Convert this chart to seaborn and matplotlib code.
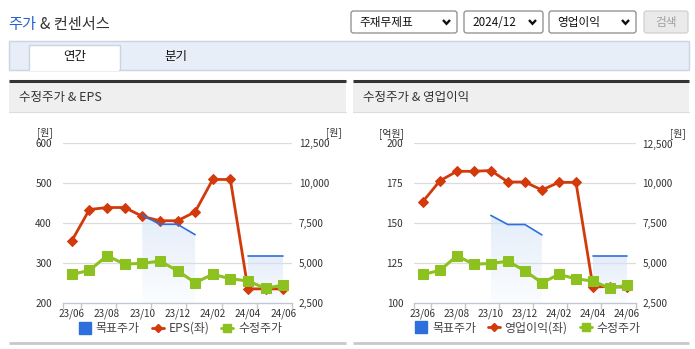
import numpy as np
import pandas as pd
import matplotlib
matplotlib.use("Agg")
import matplotlib.pyplot as plt
import seaborn as sns
from matplotlib.patches import Rectangle, FancyBboxPatch
from matplotlib.lines import Line2D
from matplotlib.ticker import FixedLocator, FuncFormatter

# ---------------- data ----------------
months = ["23/06", "23/07", "23/08", "23/09", "23/10", "23/11", "23/12",
          "24/01", "24/02", "24/03", "24/04", "24/05", "24/06"]
xtick_labels = ["23/06", "23/08", "23/10", "23/12", "24/02", "24/04", "24/06"]
eps = [356, 434, 439, 439, 417, 406, 406, 428, 509, 509, 236, 236, 236]
op_income = [163.6, 176.6, 182.6, 182.6, 183.1, 175.9, 175.9, 170.9, 175.7, 175.7, 110.3, 110.5, 110.0]
adj_price = [4305, 4554, 5467, 4948, 4990, 5135, 4533, 3786, 4305, 4035, 3890, 3433, 3641]
target_price = [np.nan, np.nan, np.nan, np.nan, 8000, 7430, 7430, 6780, np.nan, np.nan, 5430, 5430, 5430]
eps_ticks = [200, 300, 400, 500, 600]
op_ticks = [100, 125, 150, 175, 200]
price_ticks = [2500, 5000, 7500, 10000, 12500]

sns.set_theme(style="white")
plt.rcParams['font.family'] = ['Noto Sans CJK KR', 'DejaVu Sans']

W, H = 695, 349
fig = plt.figure(figsize=(W / 100, H / 100), dpi=100)
fig.patch.set_facecolor("white")

bg = fig.add_axes([0, 0, 1, 1])
bg.set_xlim(0, W)
bg.set_ylim(H, 0)
bg.axis("off")

TXT = "#333333"
# Title
bg.text(8.5, 25, "주가", color="#2a62d0", fontsize=11, va="center", ha="left")
bg.text(40.5, 25, "& 컨센서스", color="#333333", fontsize=11, va="center", ha="left")

# Dropdowns
def dropdown(x0, x1, label):
    b = FancyBboxPatch((x0, 11), x1 - x0, 22, boxstyle="round,pad=0,rounding_size=2.5",
                       fc="white", ec="#8a8a8a", lw=0.9)
    bg.add_patch(b)
    bg.text(x0 + 8, 22.3, label, fontsize=8.4, color="#111111", va="center", ha="left")
    cx = x1 - 10.5
    bg.plot([cx - 3.5, cx, cx + 3.5], [20, 23.8, 20], color="#111111", lw=1.7,
            solid_capstyle="butt", solid_joinstyle="miter")

dropdown(351, 457, "주재무제표")
dropdown(464, 543, "2024/12")
dropdown(549, 636, "영업이익")
bg.add_patch(FancyBboxPatch((644, 11), 44, 22, boxstyle="round,pad=0,rounding_size=2.5",
                            fc="#eaeaea", ec="#d0d0d0", lw=0.9))
bg.text(666, 22.3, "검색", fontsize=8.4, color="#a0a0a0", va="center", ha="center")

# Tab bar
bg.add_patch(Rectangle((9, 40.5), 680, 29, fc="#e8eef8", ec="#c9d4e4", lw=1))
bg.add_patch(Rectangle((29, 45), 91, 25, fc="white", ec="#c9d4e4", lw=1))
bg.add_patch(Rectangle((29.6, 68.5), 89.8, 2.5, fc="white", ec="none"))
bg.text(75, 56.5, "연간", fontsize=9, color="#111111", va="center", ha="center")
bg.text(176, 56.5, "분기", fontsize=9, color="#111111", va="center", ha="center")

# Panel headers
for (x0, x1, title) in [(9, 346, "수정주가 & EPS"), (353, 689, "수정주가 & 영업이익")]:
    bg.add_patch(Rectangle((x0, 82), x1 - x0, 30, fc="#efefef", ec="none"))
    bg.plot([x0, x1], [81, 81], color="#333333", lw=2.2, solid_capstyle="butt")
    bg.plot([x0, x1], [112.3, 112.3], color="#dddddd", lw=0.8)
    bg.text(x0 + 10, 98, title, fontsize=9, color="#333333", va="center", ha="left")
    bg.plot([x0, x1], [343.3, 343.3], color="#c8c8c8", lw=2.0, solid_capstyle="butt")

ORANGE = "#d33a0b"
GREEN = "#8cc11f"
BLUE = "#2e6fdc"
x_idx = np.arange(len(months))


def rect(x0, y0, x1, y1):
    return [x0 / W, 1 - y1 / H, (x1 - x0) / W, (y1 - y0) / H]


def gradient_fill(ax, ax2, xs, ys):
    xs = np.asarray(xs, float)
    ys = np.asarray(ys, float)
    poly = ax.fill_between(xs, ys, price_ticks[0], transform=ax2.transData,
                           color="none", lw=0)
    n = 256
    grad = np.zeros((n, 1, 4))
    c = matplotlib.colors.to_rgb("#d3e2f7")
    grad[:, 0, 0:3] = c
    grad[:, 0, 3] = np.linspace(0.62, 0.08, n)
    img = ax.imshow(grad, extent=[xs.min(), xs.max(), price_ticks[0], np.nanmax(ys)],
                    transform=ax2.transData, aspect="auto", zorder=1,
                    interpolation="bilinear", origin="upper")
    img.set_clip_path(poly.get_paths()[0], transform=ax2.transData)


def make_chart(axrect, left_vals, left_ticks, left_unit, left_label, left_fmt):
    ax = fig.add_axes(rect(*axrect))
    ax2 = ax.twinx()
    ax.set_facecolor("none")
    ax.set_xlim(-0.5, len(months) - 0.5)
    ax.set_ylim(left_ticks[0], left_ticks[-1])
    ax2.set_ylim(price_ticks[0], price_ticks[-1])

    # grid
    for t in left_ticks[1:]:
        ax.axhline(t, color="#dcdcdc", lw=0.9, zorder=0.5)

    # shaded target regions
    tp = np.array(target_price, float)
    valid = ~np.isnan(tp)
    segs = []
    cur = []
    for i, v in enumerate(valid):
        if v:
            cur.append(i)
        elif cur:
            segs.append(cur); cur = []
    if cur:
        segs.append(cur)
    for s in segs:
        gradient_fill(ax, ax2, x_idx[s], tp[s])
    ax.set_xlim(-0.5, len(months) - 0.5)
    ax.set_ylim(left_ticks[0], left_ticks[-1])

    df = pd.DataFrame({"x": x_idx, "left": left_vals, "price": adj_price, "target": target_price})
    sns.lineplot(data=df, x="x", y="left", ax=ax, color=ORANGE, lw=2.0, marker="D",
                 markersize=5.5, markeredgecolor=ORANGE, zorder=3)
    for s in segs:
        sub = df.iloc[s]
        sns.lineplot(data=sub, x="x", y="target", ax=ax2, color=BLUE, lw=1.2, zorder=2)
    sns.lineplot(data=df, x="x", y="price", ax=ax2, color=GREEN, lw=2.2, marker="s",
                 markersize=6.5, markeredgecolor=GREEN, zorder=4)

    ax.set_xlim(-0.5, len(months) - 0.5)
    ax.set_ylim(left_ticks[0], left_ticks[-1])
    ax2.set_ylim(price_ticks[0], price_ticks[-1])

    for a in (ax, ax2):
        a.set_xlabel("")
        a.set_ylabel("")
        for sp in a.spines.values():
            sp.set_visible(False)
    ax.spines["bottom"].set_visible(True)
    ax.spines["bottom"].set_color("#c0c8d4")
    ax.spines["bottom"].set_linewidth(1.0)

    ax.set_xticks(x_idx[::2])
    ax.set_xticklabels(xtick_labels)
    ax.xaxis.set_minor_locator(FixedLocator([-0.5, 0.5, 2.5, 4.5, 6.5, 8.5, 10.5, 12.5]))
    ax.tick_params(axis="x", which="major", length=0, pad=4, labelsize=7.2, colors=TXT)
    ax.tick_params(axis="x", which="minor", length=4, width=1.0, color="#c0c8d4", bottom=True)

    ax.set_yticks(left_ticks)
    ax.yaxis.set_major_formatter(FuncFormatter(left_fmt))
    ax.tick_params(axis="y", length=0, pad=8, labelsize=7.2, colors=TXT)
    ax2.set_yticks(price_ticks)
    ax2.yaxis.set_major_formatter(FuncFormatter(lambda v, p: f"{int(v):,}"))
    ax2.tick_params(axis="y", length=0, pad=5, labelsize=7.2, colors=TXT)

    ax.annotate(left_unit, xy=(0, 1), xycoords="axes fraction", xytext=(-10, 10),
                textcoords="offset pixels", fontsize=7.2, color=TXT, ha="right", va="center")
    ax.annotate("[원]", xy=(1, 1), xycoords="axes fraction", xytext=(50, 10),
                textcoords="offset pixels", fontsize=7.2, color=TXT, ha="right", va="center")

    handles = [
        Line2D([], [], lw=0, marker="s", markersize=9, color=BLUE),
        Line2D([], [], lw=2, marker="D", markersize=4, color=ORANGE),
        Line2D([], [], lw=2, marker="s", markersize=5.5, color=GREEN),
    ]
    leg = ax.legend(handles, ["목표주가", left_label, "수정주가"], loc="upper center",
                    bbox_to_anchor=(0.513, -0.085), ncol=3, frameon=False, fontsize=8.6,
                    handlelength=1.0, handletextpad=0.4, columnspacing=1.0, borderaxespad=0)
    for t in leg.get_texts():
        t.set_color("#444444")
    return ax, ax2


make_chart((63, 143, 292, 303.3), eps, eps_ticks, "[원]", "EPS(좌)",
           lambda v, p: f"{int(v)}")
make_chart((414.3, 143.5, 635.5, 303.3), op_income, op_ticks, "[억원]", "영업이익(좌)",
           lambda v, p: f"{int(v)}")

fig.savefig("out.png", dpi=100)
